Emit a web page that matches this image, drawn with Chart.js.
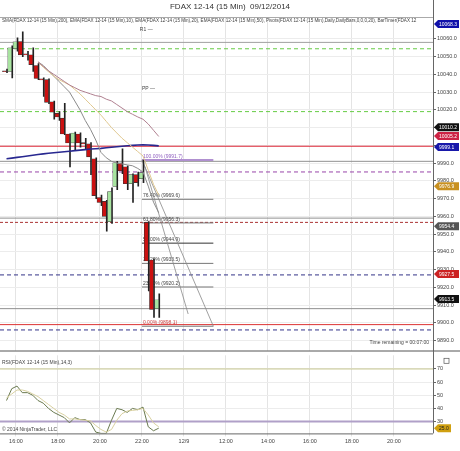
<!DOCTYPE html>
<html><head><meta charset="utf-8">
<script src="https://cdn.jsdelivr.net/npm/chart.js@4.4.1/dist/chart.umd.min.js"></script>
<style>
body{margin:0;background:#fff;font-family:Arial,"Liberation Sans",sans-serif}
#w1{position:absolute;left:0;top:0;width:460px;height:352px}
#w2{position:absolute;left:0;top:351px;width:460px;height:100px}
</style></head><body>
<div id="w1"><canvas id="c1"></canvas></div>
<div id="w2"><canvas id="c2"></canvas></div>
<script>
// ---- data ----
const barStart = 15.55, barStep = 0.25; // hours (bar times)
const opens  = [10042,10041.6,10054.4,10058.5,10051.5,10051,10045,10037.5,10037,10024.5,10018,10015.3,10006.4,10001.3,10006.4,10001.5,10000.8,9992.4,9970.6,9968.4,9957,9976.8,9990.2,9987.9,9978.4,9983.5,9981.2,9956.6,9935.4,9908];
const highs  = [10043,10056,10060.6,10064,10053,10055,10046,10038,10037.5,10025,10019,10023.7,10006.5,10007.5,10007,10004,10001.5,9993,9972,9969,9976,9991,9998,9988.5,9984,9985,9991.7,9957,9936,9916.4];
const lows   = [10041,10038,10053,10050,10048,10041.6,10037,10027.6,10023.5,10014.7,10014,10006,9987.9,9997,9999,9998,9983.5,9970,9966,9951.6,9956,9975,9984,9975,9967.8,9977,9979,9918,9903,9903];
const closes = [10041.5,10055,10058.3,10051,10051,10045.5,10037.7,10036.8,10024.2,10018.7,10016,10006.4,10001.3,10006.9,10001.3,10000.8,9993.5,9971.7,9967.8,9960,9974,9990.2,9985.7,9978.4,9983.5,9979,9984.6,9934.9,9907.5,9913];
const ema50  = [null,null,null,null,null,null,10047,10044.5,10042,10040,10038,10036,10034,10032.5,10031,10030,10029,10028,10027.5,10026,10025,10023,10021,10019,10017.5,10016,10014.7,10012,10008.5,10005];
const ema20  = [null,null,null,null,null,null,10047,10044,10041.5,10039,10037,10035.5,10034,10031.5,10029,10026,10023,10020,10017,10013.5,10010,10007,10004,10001.5,9999,9996.5,9994,9986,9978,9972];
const ema10  = [null,null,null,null,null,null,10047,10045,10042,10039,10036,10033,10030,10025,10020,10014,10009,10003,9996,9993,9991,9990,9989.5,9989,9988.5,9987,9985,9977,9968,9962];
const sma200 = [9992.4,9992.8,9993.2,9993.6,9994,9994.4,9994.8,9995.2,9995.5,9995.8,9996.1,9996.4,9996.7,9997,9997.3,9997.6,9997.9,9998.1,9998.3,9998.6,9998.9,9999.2,9999.5,9999.8,10000,10000.2,10000.3,10000.2,10000,9999.7];
const rsi    = [46,55,57,52,52,50,46,44,40,37,35,33,29,33,31.5,31.5,29,22,21,21,31,40,39,37,40,39,41,26,23,25];
const rsiSig = [48,51,54,54,53,51,49,46,43,40,37,35,32,32,31.5,31,30.5,27,24,22,24,31,36,38,38.5,39,40,35,29,26];
const xTickVals = [16,18,20,22,24,26,28,30,32,34];
const xTickLabels = ['16:00','18:00','20:00','22:00','12/9','12:00','14:00','16:00','18:00','20:00'];
const hLines = [[10058,'#a0a0a0',[]],[10054.4,'#66cc44',[4,3]],[10019,'#66cc44',[4,3]],[9999.5,'#dd2233',[]],[9991,'#909090',[]],[9985,'#9944aa',[4,3]],[9959,'#909090',[]],[9956.6,'#aa3333',[3,2]],[9927,'#333388',[4,3]],[9908,'#909090',[]],[9899,'#dd3333',[]],[9896,'#333388',[4,3]]];
const fibPct = ['100.00%','76.40%','61.80%','50.00%','38.20%','23.60%','0.00%'];
const fibVal = [9991.7,9969.6,9956.3,9944.9,9933.5,9920.2,9898.1];
const priceTags = [[10068.3,'#1010aa','#fff'],[10010.2,'#111','#fff'],[10005.2,'#cc2244','#fff'],[9999.1,'#1818aa','#fff'],[9976.9,'#c89020','#fff'],[9954.4,'#555','#fff'],[9927.5,'#cc2222','#fff'],[9913.5,'#111','#fff']];

const xs = opens.map((_,i)=>barStart+i*barStep);
const pts = a => a.map((v,i)=>({x:xs[i],y:v}));
const up = opens.map((o,i)=>closes[i]>=o);
const xScale = {type:'linear',offset:false,min:15.24,max:35.86,afterBuildTicks:s=>{s.ticks=xTickVals.map(v=>({value:v}))},
  grid:{color:'#e4e4e4',drawTicks:true,tickLength:3,offset:false},border:{display:false}};
const yAxisW = 27;

const overlay = {id:'ov',
  beforeDatasetsDraw(c){const {ctx,chartArea:a,scales:{x,y}}=c;ctx.save();
    hLines.forEach(([v,col,d])=>{const py=y.getPixelForValue(v);ctx.strokeStyle=col;ctx.setLineDash(d);ctx.lineWidth=1;ctx.beginPath();ctx.moveTo(a.left,py);ctx.lineTo(a.right,py);ctx.stroke();});
    ctx.setLineDash([]);
    const fx0=x.getPixelForValue(22),fx1=x.getPixelForValue(25.4);
    fibVal.forEach((v,i)=>{const py=y.getPixelForValue(v);ctx.strokeStyle=i==0?'#b090d0':(i==3?'#333':'#777');ctx.lineWidth=i==0?2:1;ctx.beginPath();ctx.moveTo(fx0,py);ctx.lineTo(fx1,py);ctx.stroke();
      ctx.fillStyle=i==0?'#9060c0':(i==6?'#cc4444':'#444');ctx.font='5px Arial';ctx.textBaseline='bottom';ctx.fillText(fibPct[i]+' ('+v.toFixed(1)+')',fx0+1,py-1);});
    ctx.strokeStyle='#888';ctx.lineWidth=0.8;ctx.beginPath();ctx.moveTo(fx0,y.getPixelForValue(9991.7));ctx.lineTo(fx1,y.getPixelForValue(9898.1));ctx.stroke();
    ctx.beginPath();ctx.moveTo(fx0+3,y.getPixelForValue(9988));ctx.lineTo(x.getPixelForValue(24.2),y.getPixelForValue(9905));ctx.stroke();
    ctx.fillStyle='#444';ctx.font='5px Arial';ctx.textBaseline='middle';
    ctx.fillText('PP —',x.getPixelForValue(22),y.getPixelForValue(10032));
    ctx.fillText('R1 —',x.getPixelForValue(21.9),y.getPixelForValue(10065));
    ctx.restore();},
  afterDraw(c){const {ctx,chartArea:a,scales:{y}}=c;ctx.save();
    ctx.strokeStyle='#666';ctx.lineWidth=1;ctx.beginPath();ctx.moveTo(a.right+0.5,0);ctx.lineTo(a.right+0.5,c.height);ctx.stroke();
    ctx.strokeStyle='#aaa';ctx.beginPath();ctx.moveTo(0,a.top+0.5);ctx.lineTo(a.right,a.top+0.5);ctx.stroke();
    ctx.strokeStyle='#555';ctx.beginPath();ctx.moveTo(0,c.height-1);ctx.lineTo(c.width,c.height-1);ctx.stroke();
    ctx.fillStyle='#333';ctx.font='8px Arial';ctx.textAlign='center';ctx.textBaseline='middle';ctx.fillText('FDAX 12-14 (15 Min)  09/12/2014',230,7);
    ctx.font='4.6px Arial';ctx.textAlign='left';ctx.fillStyle='#444';
    ctx.fillText('SMA(FDAX 12-14 (15 Min),200), EMA(FDAX 12-14 (15 Min),10), EMA(FDAX 12-14 (15 Min),20), EMA(FDAX 12-14 (15 Min),50), Pivots(FDAX 12-14 (15 Min),Daily,DailyBars,0,0,0,20), BarTimer(FDAX 12',2,21);
    ctx.font='5px Arial';ctx.textAlign='right';ctx.fillText('Time remaining = 00:07:00',a.right-4,a.bottom-5);
    priceTags.forEach(([v,bg,fg])=>{let py=Math.max(a.top+4,y.getPixelForValue(v));const l=a.right+1;ctx.fillStyle=bg;ctx.beginPath();ctx.moveTo(l,py);ctx.lineTo(l+4,py-4);ctx.lineTo(l+25,py-4);ctx.lineTo(l+25,py+4);ctx.lineTo(l+4,py+4);ctx.closePath();ctx.fill();
      ctx.fillStyle=fg;ctx.font='5px Arial';ctx.textAlign='left';ctx.fillText(v.toFixed(1),l+5,py+0.5);});
    ctx.restore();}};

new Chart(document.getElementById('c1'),{
  data:{datasets:[
    {type:'bar',data:xs.map((x,i)=>({x,y:[lows[i],highs[i]]})),backgroundColor:'#222',barThickness:1,order:3},
    {type:'bar',data:xs.map((x,i)=>({x,y:[opens[i],closes[i]]})),backgroundColor:up.map(u=>u?'#a8e4a0':'#cc1111'),borderColor:'#333',borderWidth:0.6,borderSkipped:false,barThickness:4,order:2},
    {type:'line',data:pts(ema50),borderColor:'#b08090',borderWidth:1,pointRadius:0,order:1},
    {type:'line',data:pts(ema20),borderColor:'#e0c890',borderWidth:1,pointRadius:0,order:1},
    {type:'line',data:pts(ema10),borderColor:'#8a8a8a',borderWidth:1,pointRadius:0,order:1},
    {type:'line',data:pts(sma200),borderColor:'#282890',borderWidth:1.6,pointRadius:0,order:1}
  ]},
  options:{responsive:true,maintainAspectRatio:false,animation:false,
    layout:{padding:{top:17,bottom:1,left:0,right:0}},
    plugins:{legend:{display:false},tooltip:{enabled:false}},
    scales:{x:{...xScale,ticks:{display:false}},
      y:{position:'right',min:9886,max:10072.3,afterBuildTicks:s=>{const t=[];for(let v=9890;v<=10060;v+=10)t.push({value:v});s.ticks=t},
        afterFit:s=>{s.width=yAxisW},grid:{color:'#ececec',tickLength:3,tickColor:'#666'},border:{display:false},
        ticks:{font:{size:5.5},color:'#444',padding:1,callback:v=>v.toFixed(1)}}}},
  plugins:[overlay]});

const rsiOv={id:'rov',
  beforeDatasetsDraw(c){const {ctx,chartArea:a,scales:{y}}=c;ctx.save();
    ctx.strokeStyle='#c8c890';ctx.lineWidth=1;let py=y.getPixelForValue(70);ctx.beginPath();ctx.moveTo(a.left,py);ctx.lineTo(a.right,py);ctx.stroke();
    ctx.strokeStyle='#b0a0c8';ctx.lineWidth=2;py=y.getPixelForValue(30);ctx.beginPath();ctx.moveTo(a.left,py);ctx.lineTo(a.right,py);ctx.stroke();ctx.restore();},
  afterDraw(c){const {ctx,chartArea:a,scales:{y}}=c;ctx.save();
    ctx.strokeStyle='#666';ctx.lineWidth=1;ctx.beginPath();ctx.moveTo(a.right+0.5,0);ctx.lineTo(a.right+0.5,a.bottom);ctx.stroke();
    ctx.beginPath();ctx.moveTo(0,a.bottom+0.5);ctx.lineTo(a.right,a.bottom+0.5);ctx.stroke();
    ctx.fillStyle='#444';ctx.font='5px Arial';ctx.textBaseline='middle';ctx.fillText('RSI(FDAX 12-14 (15 Min),14,3)',2,a.top+7);
    ctx.fillText('© 2014 NinjaTrader, LLC',2,a.bottom-4);
    ctx.strokeStyle='#555';ctx.lineWidth=0.7;ctx.strokeRect(a.right+11,a.top+3,5,5);
    const v=rsi[rsi.length-1],ty=y.getPixelForValue(v),l=a.right+1;ctx.fillStyle='#d0a010';ctx.beginPath();ctx.moveTo(l,ty);ctx.lineTo(l+4,ty-4);ctx.lineTo(l+17,ty-4);ctx.lineTo(l+17,ty+4);ctx.lineTo(l+4,ty+4);ctx.closePath();ctx.fill();
    ctx.fillStyle='#222';ctx.fillText(v.toFixed(1),l+5,ty+0.5);
    ctx.restore();}};

new Chart(document.getElementById('c2'),{
  data:{datasets:[
    {type:'line',data:pts(rsiSig),borderColor:'#d8d0a0',borderWidth:1,pointRadius:0},
    {type:'line',data:pts(rsi),borderColor:'#6a7a50',borderWidth:1,pointRadius:0}
  ]},
  options:{responsive:true,maintainAspectRatio:false,animation:false,
    layout:{padding:{top:0,bottom:4}},
    plugins:{legend:{display:false},tooltip:{enabled:false}},
    scales:{x:{...xScale,ticks:{font:{size:5.5},color:'#444',padding:2,maxRotation:0,callback:(v)=>{const i=xTickVals.indexOf(v);return i>=0?xTickLabels[i]:''}}},
      y:{position:'right',min:21,max:80.4,afterBuildTicks:s=>{s.ticks=[30,40,50,60,70].map(v=>({value:v}))},
        afterFit:s=>{s.width=yAxisW},grid:{color:'#ececec',tickLength:3,tickColor:'#666'},border:{display:false},
        ticks:{font:{size:5.5},color:'#444',padding:1}}}},
  plugins:[rsiOv]});
</script></body></html>
